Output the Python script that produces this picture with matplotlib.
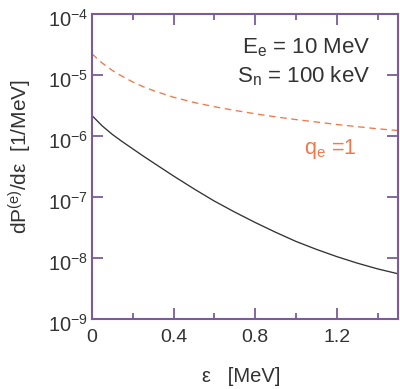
import numpy as np
import matplotlib
matplotlib.use("Agg")
import matplotlib.pyplot as plt
from matplotlib.ticker import MultipleLocator, FixedLocator, NullLocator, FuncFormatter
from matplotlib.transforms import ScaledTranslation

plt.rcParams['font.family'] = ['Liberation Sans', 'DejaVu Sans']
plt.rcParams['mathtext.fontset'] = 'custom'
plt.rcParams['mathtext.rm'] = 'Liberation Sans'
plt.rcParams['mathtext.it'] = 'Liberation Sans'
plt.rcParams['mathtext.default'] = 'regular'

# energy transfer eps [MeV]
eps = [0.0, 0.05, 0.1, 0.15, 0.2, 0.25, 0.3, 0.4, 0.5, 0.6, 0.7, 0.8, 0.9, 1.0,
       1.1, 1.2, 1.3, 1.4, 1.5]
# solid curve
dp_solid = [2.14e-6, 1.45e-6, 1.05e-6, 7.94e-7, 6.10e-7, 4.68e-7, 3.63e-7, 2.19e-7,
            1.35e-7, 8.51e-8, 5.62e-8, 3.80e-8, 2.63e-8, 1.86e-8, 1.38e-8, 1.05e-8,
            8.22e-9, 6.61e-9, 5.50e-9]
# dashed curve, q_e = 1
dp_q1 = [2.19e-5, 1.55e-5, 1.17e-5, 9.33e-6, 7.59e-6, 6.38e-6, 5.50e-6, 4.27e-6,
         3.51e-6, 2.99e-6, 2.60e-6, 2.29e-6, 2.04e-6, 1.84e-6, 1.68e-6, 1.53e-6,
         1.41e-6, 1.30e-6, 1.22e-6]
ydecades = [1e-9, 1e-8, 1e-7, 1e-6, 1e-5, 1e-4]

frame = '#7a5c9c'
orange = '#f0784a'
dark = '#333333'

fig = plt.figure(figsize=(4.0, 3.89), dpi=100)
ax = fig.add_axes([0.23, 0.18, 0.765, 0.785])

ax.plot(eps, dp_solid, color=dark, lw=0.95)
ax.plot(eps, dp_q1, color=orange, lw=0.95, dashes=(5, 3.5))

ax.set_yscale('log')
ax.set_xlim(0, 1.5)
ax.set_ylim(1e-9, 1e-4)
ax.xaxis.set_major_locator(MultipleLocator(0.4))
ax.xaxis.set_minor_locator(MultipleLocator(0.2))
ax.xaxis.set_major_formatter(FuncFormatter(lambda v, p: '0' if abs(v) < 1e-9 else f'{v:.1f}'))
ax.yaxis.set_major_locator(FixedLocator(ydecades))
ax.yaxis.set_minor_locator(NullLocator())
ax.yaxis.set_major_formatter(FuncFormatter(lambda v, p: r'$10^{%d}$' % round(np.log10(v))))

for s in ax.spines.values():
    s.set_color(frame)
    s.set_linewidth(1.5)
ax.tick_params(which='both', direction='in', top=True, right=True, color=frame,
               labelcolor=dark, width=1.3)
ax.tick_params(axis='x', labelsize=14)
ax.tick_params(axis='y', labelsize=14.5)
ax.tick_params(which='major', length=8)
ax.tick_params(axis='x', which='major', pad=7)
ax.tick_params(axis='y', which='major', pad=3)
ax.tick_params(which='minor', length=4.5)

# push the "10" of each y label down so its top sits at the tick
off = ScaledTranslation(0, -3 / 72, fig.dpi_scale_trans)
for lab in ax.get_yticklabels():
    lab.set_transform(lab.get_transform() + off)

fig.text(241 / 400, 1 - 377 / 389, 'ε   [MeV]', ha='center', va='center',
         fontsize=14.5, color=dark)
fig.text(20 / 400, 1 - 157 / 389, r'dP$^{(e)}$/dε  [1/MeV]', ha='center', va='center',
         rotation=90, fontsize=15, color=dark)

ax.text(0.91, 0.887, r'E$_e$ = 10 MeV', transform=ax.transAxes, ha='right', va='center',
        fontsize=16, color=dark)
ax.text(0.91, 0.795, r'S$_n$ = 100 keV', transform=ax.transAxes, ha='right', va='center',
        fontsize=16, color=dark)
ax.text(0.866, 0.556, r'q$_e$ =1', transform=ax.transAxes, ha='right', va='center',
        fontsize=15.5, color=orange)

fig.savefig('out.png', dpi=100)
